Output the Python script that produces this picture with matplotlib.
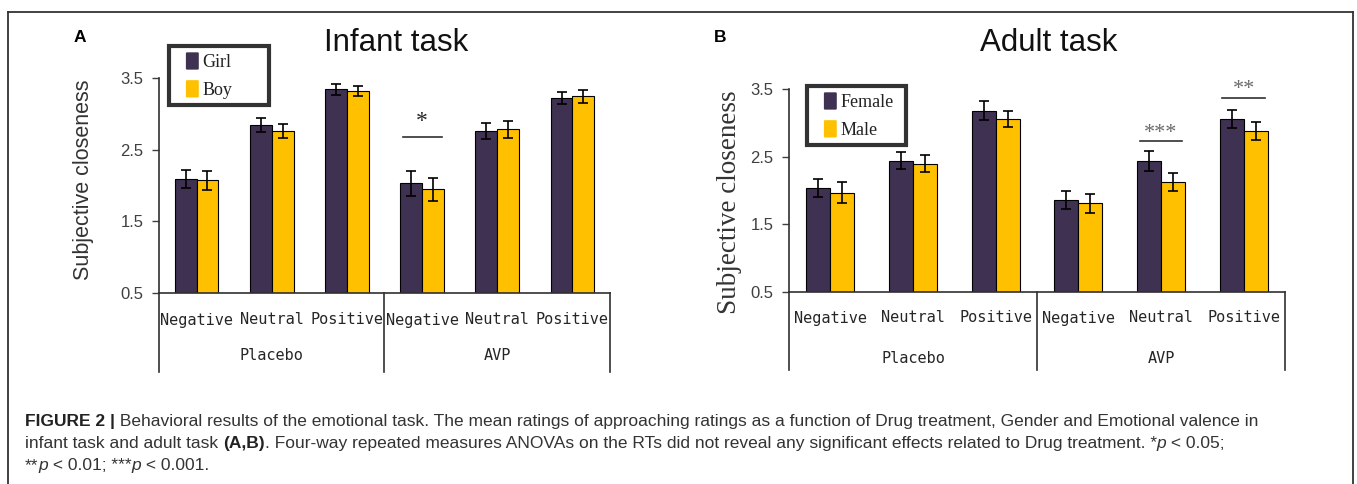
import matplotlib
matplotlib.use("Agg")
import matplotlib.pyplot as plt
from matplotlib.lines import Line2D
from matplotlib.patches import Patch, FancyBboxPatch
from matplotlib.legend_handler import HandlerPatch
import numpy as np

# ---------------- data ----------------
valence = ["Negative", "Neutral", "Positive", "Negative", "Neutral", "Positive"]
drug = ["Placebo", "AVP"]

infant_girl = [2.09, 2.84, 3.34, 2.03, 2.76, 3.22]
infant_girl_err = [0.12, 0.10, 0.075, 0.17, 0.115, 0.085]
infant_boy = [2.07, 2.76, 3.32, 1.95, 2.78, 3.24]
infant_boy_err = [0.13, 0.095, 0.07, 0.16, 0.115, 0.095]

adult_female = [2.04, 2.44, 3.18, 1.86, 2.44, 3.06]
adult_female_err = [0.135, 0.125, 0.14, 0.135, 0.15, 0.14]
adult_male = [1.97, 2.40, 3.06, 1.81, 2.13, 2.88]
adult_male_err = [0.15, 0.125, 0.12, 0.14, 0.13, 0.13]

sig_infant = [(3, 2.67, "*")]
sig_adult = [(4, 2.73, "***"), (5, 3.37, "**")]

yticks = [0.5, 1.5, 2.5, 3.5]

PURPLE = "#3F3151"
GOLD = "#FFC000"

W, H = 1357, 484
fig = plt.figure(figsize=(W / 100, H / 100), dpi=100)


def fx(px):
    return px / W


def fy(py):
    return 1 - py / H


def square_patch(legend, orig_handle, xdescent, ydescent, width, height, fontsize):
    pw = 0.55 * width
    return FancyBboxPatch((-xdescent + width - pw, -ydescent), pw, height,
                          boxstyle="round,pad=0,rounding_size=0.8")


def panel(box_px, s1, s1e, s2, s2e, sigs, labels, title, title_x, title_size, letter,
          letter_x, ylab_font, ylab_size, ylab_x, ylab_y, leg_px, tick_font,
          sig_color, sig_off, sig_size, cat_y, grp_y, div_y):
    x0, x1, ybot, ytop = box_px
    rect = [fx(x0), fy(ybot), fx(x1) - fx(x0), fy(ytop) - fy(ybot)]
    ax = fig.add_axes(rect)
    hpx = ybot - ytop

    def ay(py):
        return (ybot - py) / hpx

    x = np.arange(len(valence))
    w = 0.29
    ax.bar(x - w / 2, s1, w, yerr=s1e, color=PURPLE, edgecolor="black", linewidth=0.8,
           capsize=3.5, error_kw=dict(elinewidth=1.2, capthick=1.2, ecolor="black"),
           label=labels[0])
    ax.bar(x + w / 2, s2, w, yerr=s2e, color=GOLD, edgecolor="black", linewidth=0.8,
           capsize=3.5, error_kw=dict(elinewidth=1.2, capthick=1.2, ecolor="black"),
           label=labels[1])
    ax.set_xlim(-0.5, len(valence) - 0.5)
    ax.set_ylim(0.5, 3.5)
    ax.set_yticks(yticks)
    ax.set_yticklabels([f"{t:.1f}" for t in yticks], fontsize=12, color="#404040",
                       family=tick_font)
    ax.tick_params(axis="y", direction="out", length=5, width=1, color="#404040", pad=6)
    ax.set_xticks([])
    for s in ["top", "right"]:
        ax.spines[s].set_visible(False)
    for s in ["left", "bottom"]:
        ax.spines[s].set_color("#303030")
        ax.spines[s].set_linewidth(1.2)
    ax.set_facecolor("none")

    tr = ax.get_xaxis_transform()
    for i, v in enumerate(valence):
        ax.text(i, ay(cat_y), v, transform=tr, ha="center", va="center",
                family="DejaVu Sans Mono", fontsize=11, color="#262626")
    for g, name in enumerate(drug):
        ax.text(1 + 3 * g, ay(grp_y), name, transform=tr, ha="center", va="center",
                family="DejaVu Sans Mono", fontsize=11, color="#262626")
    for xb in [-0.5, 2.5, 5.5]:
        ax.plot([xb, xb], [0, ay(div_y)], transform=tr, color="#303030", lw=1.2,
                clip_on=False)

    for (xc, yv, star) in sigs:
        ax.plot([xc - 0.26, xc + 0.26], [yv, yv], color="#303030", lw=1.2, clip_on=False)
        ax.text(xc, yv + sig_off, star, ha="center", va="bottom", fontsize=sig_size,
                family="Liberation Serif", color=sig_color, clip_on=False)

    fig.text(title_x, fy(43), title, ha="center", va="center", fontsize=title_size,
             family="Liberation Sans", color="#111111")
    fig.text(letter_x, fy(38), letter, ha="center", va="center", fontsize=12.5,
             family="Liberation Sans", weight="bold", color="black")
    fig.text(ylab_x, ylab_y, "Subjective closeness", rotation=90, ha="center",
             va="center", fontsize=ylab_size, family=ylab_font, color="#333333")

    lx0, lx1, ly0, ly1 = leg_px
    handles = [Patch(facecolor=PURPLE, edgecolor="none"),
               Patch(facecolor=GOLD, edgecolor="none")]
    leg = fig.legend(handles, labels, loc="upper left",
                     bbox_to_anchor=(fx(lx0), fy(ly1), fx(lx1) - fx(lx0), fy(ly0) - fy(ly1)),
                     bbox_transform=fig.transFigure, mode="expand", frameon=True,
                     fancybox=False, prop=dict(family="Liberation Serif", size=13),
                     handlelength=1.3, handleheight=1.1, handletextpad=0.2,
                     borderpad=0.35, labelspacing=0.5, borderaxespad=0,
                     handler_map={Patch: HandlerPatch(patch_func=square_patch)})
    leg.get_frame().set_edgecolor("black")
    leg.get_frame().set_linewidth(3)
    for t in leg.get_texts():
        t.set_color("#222222")
    return ax


panel((159, 610, 293.3, 77.7),
      infant_girl, infant_girl_err, infant_boy, infant_boy_err, sig_infant,
      ["Girl", "Boy"], "Infant task", fx(396), 22.5, "A", fx(80),
      "Liberation Sans", 15.5, fx(84), fy(180), (169, 269, 46, 108),
      "Liberation Sans", "#262626", 0.07, 17, 320, 356, 372)

panel((789, 1285, 291.7, 89.3),
      adult_female, adult_female_err, adult_male, adult_male_err, sig_adult,
      ["Female", "Male"], "Adult task", fx(1049), 22.5, "B", fx(720),
      "Liberation Serif", 19.5, fx(729), fy(202), (807, 906, 86, 147),
      "Liberation Sans", "#6a6a6a", -0.02, 16, 318, 358, 370)

# ---------------- frame ----------------
for (xs, ys) in [([8, 8], [12, 484]), ([8, 1353], [12, 12]), ([1353, 1353], [12, 484])]:
    fig.add_artist(Line2D([fx(v) for v in xs], [fy(v) for v in ys], color="#333333",
                          lw=1.3, transform=fig.transFigure))

# ---------------- caption ----------------
caption = [
    [("FIGURE 2 |", "bold", "normal"),
     (" Behavioral results of the emotional task. The mean ratings of approaching ratings as a function of Drug treatment, Gender and Emotional valence in", "normal", "normal")],
    [("infant task and adult task ", "normal", "normal"), ("(A,B)", "bold", "normal"),
     (". Four-way repeated measures ANOVAs on the RTs did not reveal any significant effects related to Drug treatment. *", "normal", "normal"),
     ("p", "normal", "italic"), (" < 0.05;", "normal", "normal")],
    [("**", "normal", "normal"), ("p", "normal", "italic"), (" < 0.01; ***", "normal", "normal"),
     ("p", "normal", "italic"), (" < 0.001.", "normal", "normal")],
]
renderer = fig.canvas.get_renderer()
line_y = [426, 448, 470]
for line, yb in zip(caption, line_y):
    xpix = 25
    for (txt, wt, st) in line:
        t = fig.text(fx(xpix), fy(yb), txt, ha="left", va="baseline", fontsize=12.55,
                     family="Liberation Sans", weight=wt, style=st,
                     color="#222222" if wt == "bold" else "#333333")
        bb = t.get_window_extent(renderer=renderer)
        xpix += bb.width

fig.savefig("out.png", dpi=100)
